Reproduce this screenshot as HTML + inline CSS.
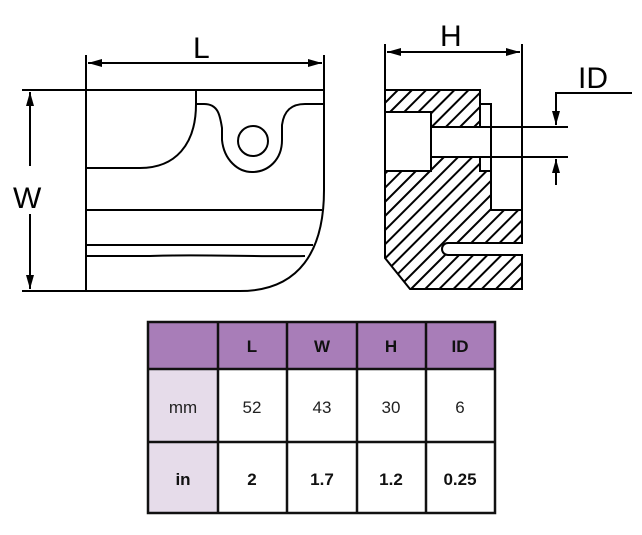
<!DOCTYPE html>
<html><head><style>
body{margin:0;background:#fff;width:642px;height:530px;overflow:hidden;font-family:"Liberation Sans",sans-serif}
</style></head><body>
<svg width="642" height="530" xmlns="http://www.w3.org/2000/svg">
<defs>
<pattern id="h" patternUnits="userSpaceOnUse" width="10" height="10" patternTransform="rotate(45)">
<rect width="10" height="10" fill="#fff"/><line x1="5" y1="0" x2="5" y2="10" stroke="#000" stroke-width="2"/>
</pattern>
<marker id="a" markerWidth="14" markerHeight="8" refX="14" refY="4" orient="auto" markerUnits="userSpaceOnUse"><path d="M0,0 L14,4 L0,8z"/></marker>
</defs>
<g stroke="#000" stroke-width="2" fill="none">
<!-- left view -->
<line x1="86" y1="55" x2="86" y2="291"/>
<line x1="324" y1="55" x2="324" y2="190"/>
<line x1="322" y1="63" x2="88" y2="63" marker-end="url(#a)"/>
<line x1="88" y1="63" x2="322" y2="63" marker-end="url(#a)"/>
<line x1="22" y1="90" x2="324" y2="90"/>
<line x1="30" y1="166" x2="30" y2="92" marker-end="url(#a)"/>
<line x1="30" y1="214" x2="30" y2="289" marker-end="url(#a)"/>
<line x1="22" y1="291" x2="240" y2="291"/>
<path d="M240,291 C300,291 324,250 324,190"/>
<path d="M196,90 V104 C196,145 175,168 140,168 H86"/>
<path d="M196,104 H204 C218,104 220,115 222,128 V140 C224,160 238,172 252,172 C268,172 282,160 282,140 V125 C284,110 292,104 305,104 H324"/>
<circle cx="253" cy="141" r="15"/>
<line x1="86" y1="210" x2="322" y2="210"/>
<line x1="86" y1="245" x2="313" y2="245"/>
<path d="M86,256 H150 C200,254 250,257 305,256"/>
<!-- right view -->
<line x1="385" y1="44" x2="385" y2="90"/>
<line x1="522" y1="44" x2="522" y2="243"/>
<line x1="404" y1="52" x2="387" y2="52" marker-end="url(#a)"/>
<line x1="500" y1="52" x2="520" y2="52" marker-end="url(#a)"/>
<line x1="404" y1="52" x2="500" y2="52"/>
<path fill="url(#h)" d="M385,90 H480 V127 H431 V112 H385 Z"/>
<path fill="url(#h)" d="M385,171 H431 V157 H480 V171 H491 V210 H522 V243 H448 A6,6 0 0 0 448,255 H522 V289 H410 L385,258 Z"/>
<rect x="385" y="112" width="46" height="59"/>
<path d="M480,104 H491 V171 H480"/>
<line x1="431" y1="127" x2="568" y2="127"/>
<line x1="431" y1="157" x2="568" y2="157"/>
<path d="M632,93 H556 V110"/>
<line x1="556" y1="108" x2="556" y2="125" marker-end="url(#a)"/>
<line x1="556" y1="185" x2="556" y2="159" marker-end="url(#a)"/>
</g>
<g font-family="Liberation Sans, sans-serif" font-size="30" fill="#000">
<text x="193" y="58">L</text>
<text x="13" y="208">W</text>
<text x="440" y="46">H</text>
<text x="578" y="88">ID</text>
</g>
<!-- table -->
<rect x="148" y="322" width="347" height="47" fill="#a87db8"/>
<rect x="148" y="369" width="70" height="144" fill="#e6dcea"/>
<g stroke="#111" stroke-width="2.5" fill="none">
<rect x="148" y="322" width="347" height="191"/>
<line x1="148" y1="369" x2="495" y2="369"/>
<line x1="148" y1="442" x2="495" y2="442"/>
<line x1="218" y1="322" x2="218" y2="513"/>
<line x1="287" y1="322" x2="287" y2="513"/>
<line x1="357" y1="322" x2="357" y2="513"/>
<line x1="426" y1="322" x2="426" y2="513"/>
</g>
<g font-size="17" text-anchor="middle" fill="#222">
<g font-weight="bold" font-size="17" fill="#111">
<text x="252" y="352">L</text><text x="322" y="352">W</text><text x="391" y="352">H</text><text x="460" y="352">ID</text>
</g>
<text x="183" y="413">mm</text><text x="252" y="413">52</text><text x="322" y="413">43</text><text x="391" y="413">30</text><text x="460" y="413">6</text>
<g font-weight="bold" fill="#111">
<text x="183" y="485">in</text><text x="252" y="485">2</text><text x="322" y="485">1.7</text><text x="391" y="485">1.2</text><text x="460" y="485">0.25</text>
</g>
</g>
</svg>
</body></html>
